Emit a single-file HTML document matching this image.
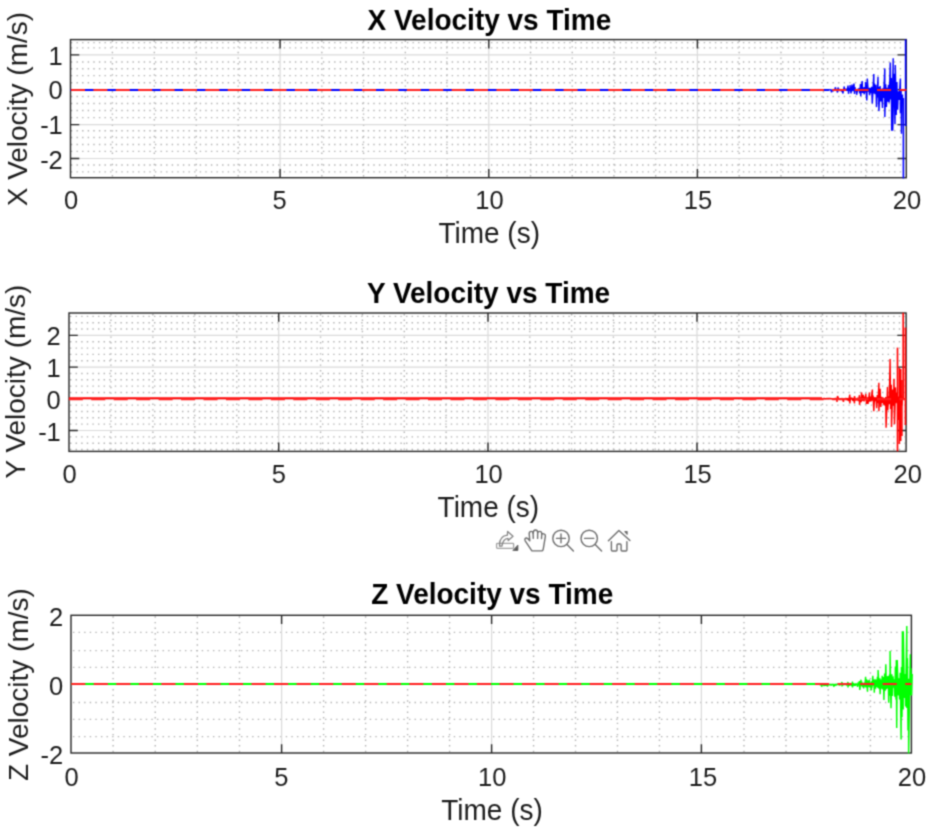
<!DOCTYPE html>
<html><head><meta charset="utf-8"><style>
html,body{margin:0;padding:0;background:#fff;width:930px;height:830px;overflow:hidden}
svg{display:block}
.t{font-family:"Liberation Sans",sans-serif;font-size:25.5px;fill:#1c1c1c}
.l{font-family:"Liberation Sans",sans-serif;font-size:28px;fill:#1c1c1c}
.ti{font-family:"Liberation Sans",sans-serif;font-size:28px;font-weight:bold;fill:#000}
</style></head><body>
<svg width="930" height="830" viewBox="0 0 930 830">
<defs><filter id="bl" color-interpolation-filters="sRGB" x="0" y="0" width="100%" height="100%"><feConvolveMatrix order="3" kernelMatrix="1 3.0 1 3.0 9.0 3.0 1 3.0 1" edgeMode="duplicate" preserveAlpha="true"/></filter></defs>
<g filter="url(#bl)">
<rect width="930" height="830" fill="#fff"/>
<path d="M70.90 42.60H905.3M70.90 47.90H905.3M70.90 61.95H905.3M70.90 68.80H905.3M70.90 75.60H905.3M70.90 82.80H905.3M70.90 96.50H905.3M70.90 103.50H905.3M70.90 110.50H905.3M70.90 117.60H905.3M70.90 130.70H905.3M70.90 137.50H905.3M70.90 144.50H905.3M70.90 151.40H905.3M70.90 165.00H905.3M70.90 171.90H905.3" stroke="#b2b2b2" stroke-width="1.4" stroke-dasharray="1.4 4.20" fill="none"/>
<path d="M112.42 40.6V176.7M154.34 40.6V176.7M196.26 40.6V176.7M238.18 40.6V176.7M321.84 40.6V176.7M363.58 40.6V176.7M405.32 40.6V176.7M447.06 40.6V176.7M530.52 40.6V176.7M572.24 40.6V176.7M613.96 40.6V176.7M655.68 40.6V176.7M739.18 40.6V176.7M780.96 40.6V176.7M823.40 40.6V176.7M865.80 40.6V176.7" stroke="#b2b2b2" stroke-width="1.4" stroke-dasharray="1.4 4.20" fill="none"/>
<path d="M280.10 39.6V177.7M488.80 39.6V177.7M697.40 39.6V177.7M70.5 54.90H906.3M70.5 89.60H906.3M70.5 124.60H906.3M70.5 158.50H906.3" stroke="#dadada" stroke-width="1.2" fill="none"/>
<path d="M280.10 177.7v-8.8M280.10 39.6v8.8M488.80 177.7v-8.8M488.80 39.6v8.8M697.40 177.7v-8.8M697.40 39.6v8.8M70.5 54.90h8.8M906.3 54.90h-8.8M70.5 89.60h8.8M906.3 89.60h-8.8M70.5 124.60h8.8M906.3 124.60h-8.8M70.5 158.50h8.8M906.3 158.50h-8.8" stroke="#262626" stroke-width="1.4" fill="none"/>
<rect x="70.5" y="39.6" width="835.8" height="138.1" fill="none" stroke="#262626" stroke-width="1.4"/>
<path d="M70.5 90.0H829.0" stroke="#0000ff" stroke-width="2.0" fill="none"/>
<path d="M829.00 90.0 L829.00 89.9 L829.70 89.7 L830.40 90.3 L831.00 89.5 L831.50 92.3 L832.50 89.7 L833.20 91.3 L833.90 89.1 L834.60 90.3 L835.50 87.3 L836.00 90.7 L836.70 89.5 L837.50 92.5 L838.00 87.5 L838.80 91.0 L839.50 89.1 L840.20 90.5 L840.90 89.4 L841.60 91.4 L842.30 89.8 L842.80 93.5 L844.30 86.5 L844.40 90.9 L845.10 88.6 L845.80 90.7 L846.50 88.6 L847.20 90.7 L848.00 85.6 L848.50 93.8 L849.30 88.1 L850.00 90.7 L850.00 85.2 L851.00 93.3 L852.00 84.7 L852.80 91.2 L854.00 83.5 L854.50 94.0 L854.90 87.1 L855.60 91.4 L856.30 89.0 L856.60 94.8 L857.70 89.0 L858.40 90.9 L859.10 88.2 L859.80 93.3 L860.50 84.0 L860.70 96.3 L862.20 81.1 L862.60 93.0 L863.30 87.4 L864.20 94.3 L864.70 87.1 L865.40 92.4 L865.50 82.0 L866.80 100.4 L867.30 78.6 L868.20 91.6 L868.90 87.9 L869.60 95.1 L870.30 87.7 L871.00 93.1 L871.70 86.9 L872.30 103.4 L873.80 74.0 L873.80 93.4 L874.50 83.5 L875.20 94.1 L875.90 84.8 L876.50 107.1 L878.00 76.8 L878.00 97.4 L878.70 86.9 L878.90 111.1 L880.10 86.0 L880.80 101.5 L881.50 88.7 L882.50 108.0 L882.90 88.3 L883.60 98.0 L884.80 68.4 L884.80 116.9 L885.70 84.3 L886.40 107.0 L887.10 87.7 L887.80 101.8 L888.50 84.8 L889.20 102.6 L890.30 62.5 L890.60 99.4 L891.30 78.0 L891.70 130.8 L893.20 58.3 L892.70 130.8 L894.10 73.7 L895.00 124.1 L895.30 65.0 L896.20 114.9 L896.90 82.0 L897.60 109.8 L898.30 91.4 L899.00 99.9 L900.40 78.5 L900.40 113.3 L901.10 90.1 L901.50 133.7 L902.50 94.6" fill="none" stroke="#0000ff" stroke-width="1.4" stroke-linejoin="miter" stroke-miterlimit="1"/>
<path d="M903.4 98V178.5" stroke="#0000ff" stroke-width="1.6" fill="none"/>
<path d="M905.6 39.3V126" stroke="#0000ff" stroke-width="1.6" fill="none"/>
<path d="M71.0 90.0H906.3" stroke="#ff2020" stroke-width="2.0" stroke-dasharray="14.016 8.374" fill="none"/>
<text transform="translate(71.10 209.3) scale(1 1.04)" class="t" text-anchor="middle">0</text>
<text transform="translate(279.50 209.3) scale(1 1.04)" class="t" text-anchor="middle">5</text>
<text transform="translate(489.40 209.3) scale(1 1.04)" class="t" text-anchor="middle">10</text>
<text transform="translate(698.00 209.3) scale(1 1.04)" class="t" text-anchor="middle">15</text>
<text transform="translate(906.90 209.3) scale(1 1.04)" class="t" text-anchor="middle">20</text>
<text transform="translate(62.80 65.4) scale(1 1.04)" class="t" text-anchor="end">1</text>
<text transform="translate(62.80 99.0) scale(1 1.04)" class="t" text-anchor="end">0</text>
<text transform="translate(62.80 133.9) scale(1 1.04)" class="t" text-anchor="end">-1</text>
<text transform="translate(62.80 168.6) scale(1 1.04)" class="t" text-anchor="end">-2</text>
<text transform="translate(489.40 29.7) scale(1 1.04)" class="ti" text-anchor="middle">X Velocity vs Time</text>
<text transform="translate(489.20 242.6) scale(1 1.04)" class="l" text-anchor="middle">Time (s)</text>
<text transform="translate(27.2 109.1) rotate(-90) scale(1 1.015)" class="l" text-anchor="middle">X Velocity (m/s)</text>
<path d="M70.00 449.52H905.1M70.00 443.18H905.1M70.00 436.84H905.1M70.00 424.16H905.1M70.00 417.82H905.1M70.00 411.48H905.1M70.00 405.14H905.1M70.00 392.46H905.1M70.00 386.12H905.1M70.00 379.78H905.1M70.00 373.44H905.1M70.00 360.76H905.1M70.00 354.42H905.1M70.00 348.08H905.1M70.00 341.74H905.1M70.00 329.06H905.1M70.00 322.72H905.1M70.00 316.38H905.1" stroke="#b2b2b2" stroke-width="1.4" stroke-dasharray="1.4 4.20" fill="none"/>
<path d="M110.94 314.0V450.4M152.88 314.0V450.4M194.82 314.0V450.4M236.76 314.0V450.4M320.56 314.0V450.4M362.42 314.0V450.4M404.28 314.0V450.4M446.14 314.0V450.4M529.80 314.0V450.4M571.60 314.0V450.4M613.40 314.0V450.4M655.20 314.0V450.4M738.82 314.0V450.4M780.64 314.0V450.4M822.46 314.0V450.4M865.60 314.0V450.4" stroke="#b2b2b2" stroke-width="1.4" stroke-dasharray="1.4 4.20" fill="none"/>
<path d="M278.70 313.0V451.4M488.00 313.0V451.4M697.00 313.0V451.4M69.0 335.40H906.1M69.0 367.10H906.1M69.0 398.80H906.1M69.0 430.50H906.1" stroke="#dadada" stroke-width="1.2" fill="none"/>
<path d="M278.70 451.4v-8.8M278.70 313.0v8.8M488.00 451.4v-8.8M488.00 313.0v8.8M697.00 451.4v-8.8M697.00 313.0v8.8M69.0 335.40h8.8M906.1 335.40h-8.8M69.0 367.10h8.8M906.1 367.10h-8.8M69.0 398.80h8.8M906.1 398.80h-8.8M69.0 430.50h8.8M906.1 430.50h-8.8" stroke="#262626" stroke-width="1.4" fill="none"/>
<rect x="69.0" y="313.0" width="837.1" height="138.4" fill="none" stroke="#262626" stroke-width="1.4"/>
<path d="M69.0 398.2H822.0" stroke="#ff0000" stroke-width="1.9" fill="none"/>
<path d="M822.00 398.2 L822.00 399.1 L822.70 398.6 L823.40 398.5 L824.10 398.3 L824.80 399.1 L825.50 398.5 L826.20 399.0 L826.90 398.4 L827.60 398.9 L828.30 398.4 L829.00 398.9 L829.70 398.3 L830.40 398.8 L831.10 398.4 L831.80 399.1 L832.50 398.5 L833.20 399.3 L833.90 398.4 L834.60 399.1 L835.30 398.3 L836.00 398.9 L836.70 398.1 L837.00 401.9 L837.50 396.1 L838.80 399.1 L839.50 398.4 L840.20 399.5 L840.90 398.3 L841.60 399.3 L842.30 398.2 L843.50 401.9 L843.70 398.2 L844.40 399.8 L845.10 398.2 L845.80 399.5 L846.50 398.2 L847.20 400.4 L847.90 398.1 L848.60 401.0 L849.80 394.7 L849.80 403.4 L850.70 397.5 L851.40 399.6 L852.10 397.8 L852.80 400.9 L853.50 398.0 L854.50 403.4 L854.50 396.1 L855.60 400.5 L856.30 398.1 L857.00 400.2 L857.70 397.8 L858.40 401.1 L859.50 395.2 L859.50 404.8 L860.50 397.3 L861.20 402.2 L861.50 392.4 L862.60 400.8 L863.30 394.9 L864.00 401.4 L864.70 396.7 L865.40 400.1 L865.80 393.9 L866.50 404.0 L867.50 397.4 L868.00 404.0 L869.50 392.4 L869.60 401.7 L870.30 396.6 L871.00 401.4 L872.40 389.5 L872.40 400.7 L873.10 395.5 L873.80 411.2 L874.50 397.2 L875.20 401.2 L875.90 397.4 L876.70 408.3 L877.30 395.0 L878.00 403.1 L878.90 382.7 L878.90 411.2 L880.10 388.8 L880.80 406.9 L881.50 396.8 L882.20 402.9 L882.90 397.4 L883.60 404.6 L884.30 398.1 L885.00 405.6 L885.70 397.1 L886.10 427.8 L887.50 387.0 L887.80 410.3 L888.50 396.2 L889.20 404.3 L890.10 358.9 L890.60 409.1 L891.30 384.8 L891.50 427.0 L892.70 389.5 L893.40 405.6 L894.00 378.7 L894.50 424.3 L895.50 387.4 L896.20 403.1 L896.90 392.6 L897.60 401.9 L898.30 396.5 L898.50 420.0 L900.00 392.0 L900.40 404.7 L901.10 395.1 L901.80 405.8 L902.50 397.5" fill="none" stroke="#ff0000" stroke-width="1.4" stroke-linejoin="miter" stroke-miterlimit="1"/>
<path d="M897.5 347.6V451.3" stroke="#ff0000" stroke-width="1.6" fill="none"/>
<path d="M899.3 368V444" stroke="#ff0000" stroke-width="1.6" fill="none"/>
<path d="M900.7 369V441" stroke="#ff0000" stroke-width="1.6" fill="none"/>
<path d="M901.9 380V436" stroke="#ff0000" stroke-width="1.6" fill="none"/>
<path d="M903.2 312.8V400" stroke="#ff0000" stroke-width="1.6" fill="none"/>
<path d="M905.4 327.5V425" stroke="#ff0000" stroke-width="1.6" fill="none"/>
<path d="M68.8 399.1H906.1" stroke="#ff2020" stroke-width="2.4" stroke-dasharray="14.054 8.396" fill="none"/>
<text transform="translate(69.60 482.8) scale(1 1.04)" class="t" text-anchor="middle">0</text>
<text transform="translate(278.80 482.8) scale(1 1.04)" class="t" text-anchor="middle">5</text>
<text transform="translate(488.60 482.8) scale(1 1.04)" class="t" text-anchor="middle">10</text>
<text transform="translate(697.60 482.8) scale(1 1.04)" class="t" text-anchor="middle">15</text>
<text transform="translate(907.70 482.8) scale(1 1.04)" class="t" text-anchor="middle">20</text>
<text transform="translate(60.80 344.5) scale(1 1.04)" class="t" text-anchor="end">2</text>
<text transform="translate(60.80 376.7) scale(1 1.04)" class="t" text-anchor="end">1</text>
<text transform="translate(60.80 408.7) scale(1 1.04)" class="t" text-anchor="end">0</text>
<text transform="translate(60.80 440.8) scale(1 1.04)" class="t" text-anchor="end">-1</text>
<text transform="translate(488.55 302.5) scale(1 1.04)" class="ti" text-anchor="middle">Y Velocity vs Time</text>
<text transform="translate(488.35 516.6) scale(1 1.04)" class="l" text-anchor="middle">Time (s)</text>
<text transform="translate(25.2 381.6) rotate(-90) scale(1 1.015)" class="l" text-anchor="middle">Y Velocity (m/s)</text>
<path d="M72.95 632.40H910.4M72.95 650.60H910.4M72.95 667.40H910.4M72.95 702.50H910.4M72.95 719.40H910.4M72.95 736.60H910.4" stroke="#b2b2b2" stroke-width="1.4" stroke-dasharray="1.4 4.20" fill="none"/>
<path d="M113.12 616.3V752.0M155.24 616.3V752.0M197.36 616.3V752.0M239.48 616.3V752.0M323.60 616.3V752.0M365.60 616.3V752.0M407.60 616.3V752.0M449.60 616.3V752.0M533.56 616.3V752.0M575.52 616.3V752.0M617.48 616.3V752.0M659.44 616.3V752.0M744.00 616.3V752.0M786.00 616.3V752.0M828.20 616.3V752.0M870.40 616.3V752.0" stroke="#b2b2b2" stroke-width="1.4" stroke-dasharray="1.4 4.20" fill="none"/>
<path d="M281.60 615.3V753.0M491.60 615.3V753.0M701.40 615.3V753.0M71.0 684.20H911.4" stroke="#dadada" stroke-width="1.2" fill="none"/>
<path d="M281.60 753.0v-8.8M281.60 615.3v8.8M491.60 753.0v-8.8M491.60 615.3v8.8M701.40 753.0v-8.8M701.40 615.3v8.8M71.0 684.20h8.8M911.4 684.20h-8.8" stroke="#262626" stroke-width="1.4" fill="none"/>
<rect x="71.0" y="615.3" width="840.4" height="137.7" fill="none" stroke="#262626" stroke-width="1.4"/>
<path d="M71.0 684.0H818.0" stroke="#00ff00" stroke-width="2.0" fill="none"/>
<path d="M818.00 684.0 L818.00 684.1 L818.60 684.1 L819.20 684.5 L819.80 684.1 L820.40 685.2 L821.00 684.0 L821.80 686.7 L822.20 684.3 L822.80 685.1 L823.40 684.4 L824.00 685.9 L824.60 684.6 L825.20 685.7 L825.80 684.5 L826.40 685.6 L827.00 684.3 L827.50 686.5 L828.20 684.5 L828.80 685.1 L829.40 684.4 L830.00 685.1 L830.60 684.1 L831.20 685.5 L831.80 684.2 L832.40 685.1 L833.00 684.1 L834.00 686.7 L834.20 684.1 L834.80 685.8 L835.40 684.0 L836.00 685.5 L836.60 683.9 L837.20 684.9 L837.80 683.8 L838.40 684.9 L839.00 683.7 L839.60 685.6 L840.20 683.8 L840.80 684.8 L842.00 682.1 L842.00 686.4 L842.60 683.6 L843.20 685.2 L843.80 684.0 L844.40 684.8 L845.00 683.9 L845.60 684.8 L846.20 683.7 L846.80 685.6 L848.00 682.1 L848.00 687.4 L848.60 683.3 L849.20 685.8 L849.80 683.7 L850.40 685.3 L851.00 683.7 L851.60 686.2 L852.50 681.6 L852.50 687.4 L853.40 683.1 L854.00 685.9 L854.60 683.6 L855.20 685.7 L855.80 683.4 L856.40 685.3 L857.00 683.5 L857.60 686.9 L858.20 682.3 L858.80 685.7 L859.40 681.0 L859.80 690.0 L861.00 679.7 L861.20 685.9 L861.80 681.7 L862.40 687.2 L863.00 683.1 L863.70 688.4 L864.20 682.6 L864.80 686.6 L865.60 676.8 L866.00 687.5 L866.60 679.3 L867.50 691.7 L867.80 680.3 L868.40 687.0 L869.50 679.7 L869.60 687.5 L870.20 682.7 L871.40 690.3 L871.40 681.3 L872.00 687.7 L872.80 675.8 L873.20 685.8 L873.80 679.5 L874.30 692.7 L875.00 679.4 L875.60 688.6 L876.20 679.6 L876.80 687.0 L877.40 676.8 L878.00 687.9 L878.10 670.1 L879.20 688.9 L879.80 678.2 L880.10 694.2 L881.00 679.6 L881.60 688.7 L882.20 675.9 L882.80 689.5 L883.40 677.0 L883.90 700.0 L884.60 673.4 L885.20 690.7 L885.80 664.3 L886.40 689.3 L887.00 676.2 L887.60 688.5 L888.20 676.0 L888.70 702.8 L889.40 674.5 L890.00 695.7 L890.10 651.1 L891.00 708.2 L891.80 674.3 L892.40 696.0 L893.00 676.4 L893.60 687.6 L894.20 679.2 L894.80 696.8 L895.40 666.4 L896.00 699.5 L896.30 660.0 L896.70 728.0 L897.20 660.0 L898.40 695.6 L899.00 678.3 L899.60 699.6 L900.20 672.7 L901.10 739.4 L901.40 667.1 L902.00 717.3 L902.40 631.3 L903.20 709.5 L903.30 631.3 L904.40 698.1 L905.00 674.1 L905.60 706.6 L906.80 626.1 L906.80 707.9 L907.40 658.2 L908.00 730.6 L908.60 678.7 L908.60 753.5 L910.30 654.2 L910.40 695.2 L911.00 668.3 L911.60 695.4 L912.20 674.1" fill="none" stroke="#00ff00" stroke-width="1.4" stroke-linejoin="miter" stroke-miterlimit="1"/>
<path d="M71.2 684.0H911.4" stroke="#ff2020" stroke-width="2.0" stroke-dasharray="14.110 8.430" fill="none"/>
<text transform="translate(71.60 785.8) scale(1 1.04)" class="t" text-anchor="middle">0</text>
<text transform="translate(281.30 785.8) scale(1 1.04)" class="t" text-anchor="middle">5</text>
<text transform="translate(492.20 785.8) scale(1 1.04)" class="t" text-anchor="middle">10</text>
<text transform="translate(703.00 785.8) scale(1 1.04)" class="t" text-anchor="middle">15</text>
<text transform="translate(912.00 785.8) scale(1 1.04)" class="t" text-anchor="middle">20</text>
<text transform="translate(63.10 625.5) scale(1 1.04)" class="t" text-anchor="end">2</text>
<text transform="translate(63.10 694.6) scale(1 1.04)" class="t" text-anchor="end">0</text>
<text transform="translate(63.10 763.6) scale(1 1.04)" class="t" text-anchor="end">-2</text>
<text transform="translate(492.20 604.3) scale(1 1.04)" class="ti" text-anchor="middle">Z Velocity vs Time</text>
<text transform="translate(492.00 819.6) scale(1 1.04)" class="l" text-anchor="middle">Time (s)</text>
<text transform="translate(27.6 684.6) rotate(-90) scale(1 1.015)" class="l" text-anchor="middle">Z Velocity (m/s)</text>
<g fill="none" stroke="#6f6f6f" stroke-width="1.4" stroke-linejoin="round" stroke-linecap="round">
<rect x="496.6" y="543.3" width="17" height="5.1" rx="0.8" stroke="#a2a2a2" stroke-width="1.3"/>
<path d="M499.6 546.2 C499.2 539.5 502.2 535.6 507.4 535.1 L507.6 531.4 L513.0 536.2 L508.2 540.5 L508.0 538.3 C504.3 538.6 502.6 541.3 501.9 546.2 Z" stroke="#858585" stroke-width="1.3"/>
<path d="M517.9 545.4 L517.9 550.4 L513.2 550.4 Z" fill="#555" stroke="#555" stroke-width="0.8"/>
<path d="M531.9 550.9 L525.2 540.8 Q524.2 538.5 526.2 538.0 Q527.8 537.8 529.8 540.8 L529.2 533.6 Q529.3 531.4 531.2 531.4 Q533.0 531.4 533.1 533.2 Q533.3 530.0 535.5 530.0 Q537.6 530.0 537.7 532.6 Q538.0 531.4 539.8 531.4 Q541.7 531.4 541.8 533.8 Q542.3 533.6 543.9 533.9 Q545.6 534.3 545.4 536.2 L543.2 549.3 Q542.9 550.9 541.4 550.9 Z"/>
<path d="M533.1 533.2 L533.3 538.4 M537.7 532.6 L537.6 538.4 M541.8 533.8 L541.5 538.6"/>
<circle cx="561.0" cy="538.4" r="8.2"/><path d="M556.5 538.4 H565.5 M561.0 534.0 V542.8 M567.0 544.6 L573.4 551.0"/>
<circle cx="589.2" cy="538.4" r="8.2"/><path d="M584.6 538.4 H593.8 M595.2 544.6 L601.6 551.0"/>
<path d="M608.4 540.8 L618.9 530.6 L629.9 540.6 M611.4 541.6 V550.0 Q611.4 551.0 612.4 551.0 H616.0 Q617.0 551.0 617.0 550.0 V545.0 Q617.0 544.0 618.0 544.0 H620.1 Q621.1 544.0 621.1 545.0 V550.0 Q621.1 551.0 622.1 551.0 H625.9 Q626.9 551.0 626.9 550.0 V541.6"/>
<path d="M624.9 531.6 L627.1 531.6 L627.1 534.2 Z" fill="#6f6f6f" stroke-width="1.2"/>
</g>
</g>
</svg>
</body></html>
